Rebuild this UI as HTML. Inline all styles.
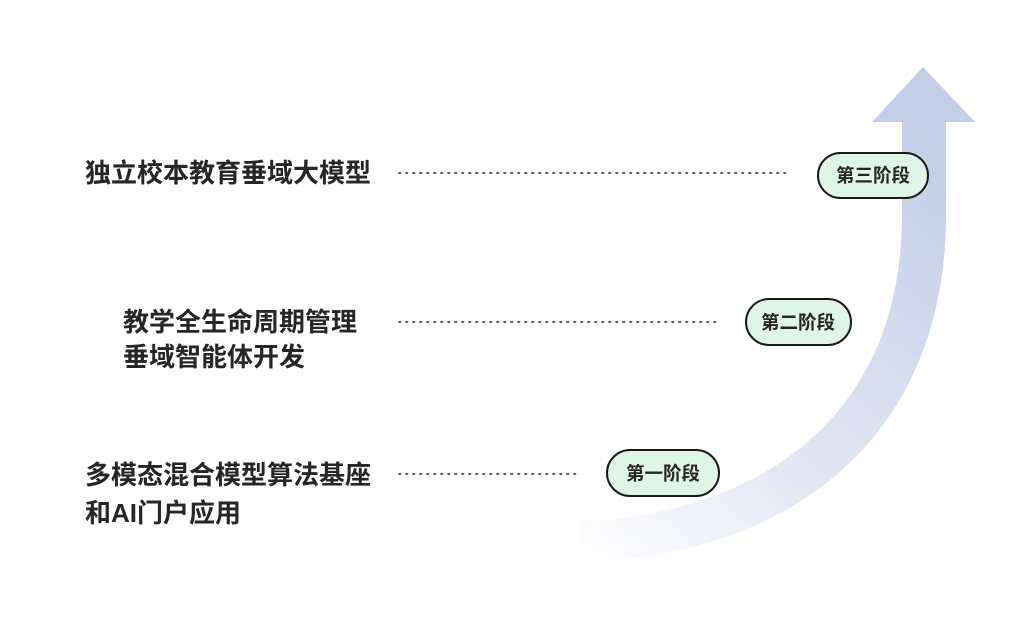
<!DOCTYPE html>
<html><head><meta charset="utf-8"><style>
html,body{margin:0;padding:0;background:#fff;}
body{width:1024px;height:615px;overflow:hidden;}
svg text{font-family:"Liberation Sans","Noto Sans CJK SC",sans-serif;font-weight:bold;fill:#262626;}
</style></head><body>
<svg width="1024" height="615" viewBox="0 0 1024 615" xmlns="http://www.w3.org/2000/svg">
<defs>
<linearGradient id="g" x1="580" y1="560" x2="930" y2="150" gradientUnits="userSpaceOnUse">
<stop offset="0" stop-color="#ffffff"/>
<stop offset="0.35" stop-color="#e4e9f5"/>
<stop offset="1" stop-color="#c3cfe8"/>
</linearGradient>
</defs>
<path d="M923,67 L975,122 L946,122 L946,215 C946,430 800,556 580,562 L580,522 C770,512 902,410 902,215 L902,122 L872,122 Z" fill="url(#g)"/>
<g stroke="#444" stroke-width="1.8" stroke-dasharray="1.5 5.5" stroke-linecap="round">
<line x1="399" y1="173" x2="791" y2="173"/>
<line x1="399" y1="322" x2="718" y2="322"/>
<line x1="399" y1="474" x2="580" y2="474"/>
</g>
<g fill="#dff5e6" stroke="#1a1a1a" stroke-width="2">
<rect x="818" y="153" width="110" height="45" rx="22.5"/>
<rect x="746" y="299" width="105" height="46" rx="23"/>
<rect x="607" y="450" width="112" height="46" rx="23"/>
</g>
<g font-size="18.5" text-anchor="middle">
<text x="873" y="182">第三阶段</text>
<text x="798" y="329">第二阶段</text>
<text x="663" y="480">第一阶段</text>
</g>
<g font-size="26">
<text x="85" y="182">独立校本教育垂域大模型</text>
<text x="123" y="331">教学全生命周期管理</text>
<text x="123" y="366">垂域智能体开发</text>
<text x="85" y="484">多模态混合模型算法基座</text>
<text x="85" y="522">和AI门户应用</text>
</g>
</svg>
</body></html>
